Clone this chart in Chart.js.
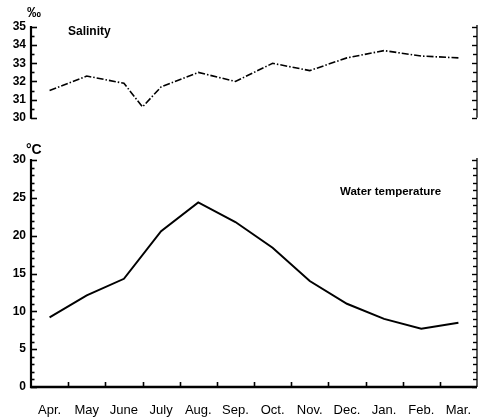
<!DOCTYPE html>
<html><head><meta charset="utf-8">
<script src="https://cdn.jsdelivr.net/npm/chart.js@4"></script>
<style>
html,body{margin:0;padding:0;background:#fff;}
#wrap{position:relative;width:479px;height:418px;overflow:hidden;}
.box{position:absolute;left:0;width:479px;}
</style></head><body>
<div id="wrap">
<div class="box" style="top:0;height:130px"><canvas id="c1"></canvas></div>
<div class="box" style="top:140px;height:278px"><canvas id="c2"></canvas></div>
</div>
<script>
const months = ['Apr.','May','June','July','Aug.','Sep.','Oct.','Nov.','Dec.','Jan.','Feb.','Mar.'];
const temperature = [9.2, 12.1, 14.3, 20.6, 24.4, 21.8, 18.4, 14.0, 11.0, 9.0, 7.7, 8.5];
const salinityPos = [0, 1, 2, 2.5, 3, 4, 5, 6, 7, 8, 9, 10, 11];
const salinity = [31.5, 32.3, 31.9, 30.6, 31.7, 32.5, 32.0, 33.0, 32.6, 33.3, 33.7, 33.4, 33.3];
const salinityTicks = [30, 31, 32, 33, 34, 35];
const temperatureTicks = [0, 5, 10, 15, 20, 25, 30];

const NUMFONT = '"Liberation Sans Narrow","Arial Narrow","Liberation Sans",Arial,sans-serif';
const TXTFONT = '"Liberation Sans",Arial,Helvetica,sans-serif';

function deco(cfg) {
  return {
    id: 'deco',
    afterDraw(chart) {
      const {ctx, chartArea: a, scales} = chart;
      const y = scales.y;
      ctx.save();
      ctx.strokeStyle = '#000';
      ctx.fillStyle = '#000';
      const top = y.getPixelForValue(cfg.max), bot = y.getPixelForValue(cfg.min);
      ctx.lineWidth = 2.2;
      ctx.beginPath(); ctx.moveTo(a.left, top - 1); ctx.lineTo(a.left, bot + 1); ctx.stroke();
      ctx.lineWidth = 1.3;
      ctx.beginPath(); ctx.moveTo(a.right, top - 2); ctx.lineTo(a.right, bot); ctx.stroke();
      for (let v = cfg.min; v <= cfg.max + 1e-9; v += cfg.minor) {
        const py = Math.round(y.getPixelForValue(v)) + 0.5;
        const r = v / cfg.major;
        const major = Math.abs(r - Math.round(r)) < 1e-6;
        ctx.lineWidth = 1.6;
        ctx.beginPath(); ctx.moveTo(a.left, py); ctx.lineTo(a.left + (major ? 6 : 3.5), py); ctx.stroke();
        ctx.lineWidth = 1.4;
        ctx.beginPath(); ctx.moveTo(a.right - (major ? 5 : 4), py); ctx.lineTo(a.right, py); ctx.stroke();
      }
      if (cfg.xaxis) {
        const x = scales.x;
        ctx.lineWidth = 2.5;
        ctx.beginPath(); ctx.moveTo(a.left - 1, a.bottom); ctx.lineTo(a.right, a.bottom); ctx.stroke();
        ctx.lineWidth = 1.6;
        for (let i = 1; i < months.length; i++) {
          const px = Math.round((x.getPixelForValue(i - 1) + x.getPixelForValue(i)) / 2) + 0.5;
          ctx.beginPath(); ctx.moveTo(px, a.bottom); ctx.lineTo(px, a.bottom - 5); ctx.stroke();
        }
      }
      ctx.textBaseline = 'middle';
      ctx.textAlign = 'left';
      ctx.font = 'bold 14px ' + TXTFONT;
      ctx.fillText(cfg.unit, cfg.unitX, cfg.unitY);
      ctx.font = cfg.labelFont;
      ctx.fillText(cfg.label, cfg.labelX, cfg.labelY);
      ctx.restore();
    }
  };
}

const common = {
  responsive: true,
  maintainAspectRatio: false,
  animation: false,
  plugins: {legend: {display: false}, tooltip: {enabled: false}},
  elements: {point: {radius: 0}, line: {tension: 0}}
};

new Chart(document.getElementById('c1'), {
  type: 'line',
  data: {
    datasets: [{
      data: salinityPos.map((p, i) => ({x: p, y: salinity[i]})),
      borderColor: '#000', borderWidth: 1.6, borderDash: [7, 2, 1.5, 2], fill: false
    }]
  },
  options: Object.assign({}, common, {
    layout: {padding: {top: 27, bottom: 10, left: 0, right: 2}},
    scales: {
      x: {type: 'linear', min: -0.5, max: 11.5, display: false},
      y: {
        min: 30, max: 35,
        afterBuildTicks: s => { s.ticks = salinityTicks.map(v => ({value: v})); },
        afterFit: s => { s.width = 31; },
        ticks: {color: '#000', font: {family: NUMFONT, size: 12, weight: 'bold'}, padding: 5},
        grid: {display: false, drawTicks: false},
        border: {display: false}
      }
    }
  }),
  plugins: [deco({min: 30, max: 35, minor: 0.5, major: 1, unit: '‰', unitX: 27, unitY: 13,
    label: 'Salinity', labelX: 68, labelY: 32, labelFont: 'bold 12px ' + TXTFONT})]
});

new Chart(document.getElementById('c2'), {
  type: 'line',
  data: {
    labels: months,
    datasets: [{data: temperature, borderColor: '#000', borderWidth: 2, fill: false}]
  },
  options: Object.assign({}, common, {
    layout: {padding: {top: 20, bottom: 0, left: 0, right: 2}},
    scales: {
      x: {
        offset: true,
        afterFit: s => { s.height = 31; s.paddingLeft = 0; s.paddingRight = 0; },
        ticks: {color: '#000', font: {family: TXTFONT, size: 13}, padding: 16, autoSkip: false, maxRotation: 0},
        grid: {display: false, drawTicks: false, offset: true},
        border: {display: false}
      },
      y: {
        min: 0, max: 30,
        afterBuildTicks: s => { s.ticks = temperatureTicks.map(v => ({value: v})); },
        afterFit: s => { s.width = 31; },
        ticks: {color: '#000', font: {family: NUMFONT, size: 12, weight: 'bold'}, padding: 5},
        grid: {display: false, drawTicks: false},
        border: {display: false}
      }
    }
  }),
  plugins: [deco({min: 0, max: 30, minor: 1, major: 5, xaxis: true, unit: '°C', unitX: 26, unitY: 10,
    label: 'Water temperature', labelX: 340, labelY: 52, labelFont: 'bold 11.5px ' + TXTFONT})]
});
</script>
</body></html>
